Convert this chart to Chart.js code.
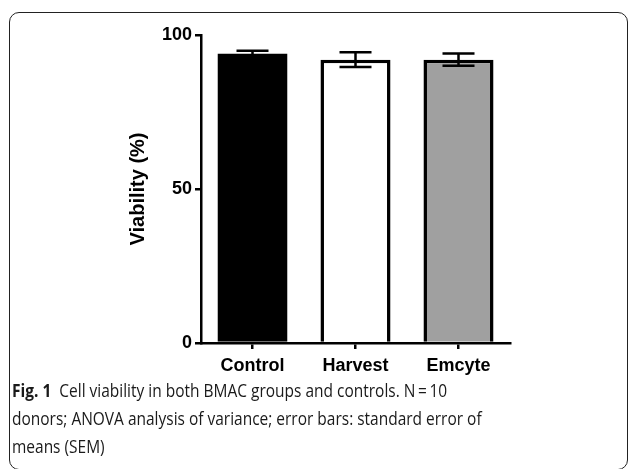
<!DOCTYPE html>
<html>
<head>
<meta charset="utf-8">
<script src="https://cdn.jsdelivr.net/npm/chart.js@4"></script>
<style>
  html, body { margin: 0; padding: 0; background: #fff; }
  body { width: 629px; height: 469px; position: relative; overflow: hidden; }
  #frame {
    position: absolute; left: 9px; top: 12px; width: 619px; height: 458px;
    border: 1px solid #222; border-radius: 10px; box-sizing: border-box;
  }
  #wrap { position: absolute; left: 0; top: 0; width: 629px; height: 390px; }
  #caption {
    position: absolute; left: 12px; top: 376px; width: 700px;
    font-family: "Open Sans", sans-serif; font-size: 18px; line-height: 28px;
    color: #1a1a1a; white-space: nowrap;
    transform: scaleX(0.86); transform-origin: 0 0;
  }
  #caption b { font-weight: 700; }
</style>
</head>
<body>
<div id="frame"></div>
<div id="wrap"><canvas id="viability"></canvas></div>
<div id="caption">
  <b>Fig. 1</b>&nbsp;&nbsp;Cell viability in both BMAC groups and controls. N&#8201;=&#8201;10<br>
  donors; ANOVA analysis of variance; error bars: standard error of<br>
  means (SEM)
</div>
<script>
const groups = ["Control", "Harvest", "Emcyte"];
const means = [94, 92, 92];
const sems = [0.9, 2.4, 2.0];
const fills = ["#000000", "#ffffff", "#a0a0a0"];
const yTicks = [0, 50, 100];

const axisFont = { family: "'Liberation Sans', Arial, sans-serif", size: 18, weight: "bold" };

// error bars drawn from the y scale
const errorBars = {
  id: "errorBars",
  afterDatasetsDraw(chart) {
    const { ctx } = chart;
    const y = chart.scales.y;
    const meta = chart.getDatasetMeta(0);
    ctx.save();
    ctx.strokeStyle = "#000";
    ctx.lineWidth = 2.5;
    meta.data.forEach((bar, i) => {
      const x = bar.x;
      const top = y.getPixelForValue(means[i] + sems[i]);
      const bottom = y.getPixelForValue(means[i] - sems[i]);
      const half = 16;
      ctx.beginPath();
      ctx.moveTo(x, top);
      ctx.lineTo(x, bottom);
      ctx.moveTo(x - half, top);
      ctx.lineTo(x + half, top);
      ctx.moveTo(x - half, bottom);
      ctx.lineTo(x + half, bottom);
      ctx.stroke();
    });
    ctx.restore();
  },
};

new Chart(document.getElementById("viability"), {
  type: "bar",
  data: {
    labels: groups,
    datasets: [
      {
        data: means,
        backgroundColor: fills,
        borderColor: "#000",
        borderWidth: 3.5,
        barPercentage: 0.68,
        categoryPercentage: 1,
      },
    ],
  },
  options: {
    responsive: true,
    maintainAspectRatio: false,
    animation: false,
    layout: { padding: { left: 126, right: 119, top: 35, bottom: 7 } },
    plugins: { legend: { display: false }, tooltip: { enabled: false } },
    scales: {
      y: {
        min: 0,
        max: 100,
        afterFit: (scale) => { scale.width = 75; },
        afterBuildTicks: (scale) => { scale.ticks = yTicks.map((v) => ({ value: v })); },
        border: { display: true, color: "#000", width: 2.5 },
        grid: { drawOnChartArea: false, drawTicks: true, tickLength: 6, color: "#000", lineWidth: 2.5 },
        ticks: { color: "#000", font: axisFont, padding: 3 },
        title: { display: true, text: "Viability (%)", color: "#000", padding: 0,
                 font: { family: "'Liberation Sans', Arial, sans-serif", size: 20, weight: "bold" } },
      },
      x: {
        afterFit: (scale) => { scale.height = 40; },
        border: { display: true, color: "#000", width: 2.5 },
        grid: { offset: false, drawOnChartArea: false, drawTicks: true, tickLength: 6, color: "#000", lineWidth: 2.5 },
        ticks: { color: "#000", font: axisFont, padding: 6 },
      },
    },
  },
  plugins: [errorBars],
});
</script>
</body>
</html>
